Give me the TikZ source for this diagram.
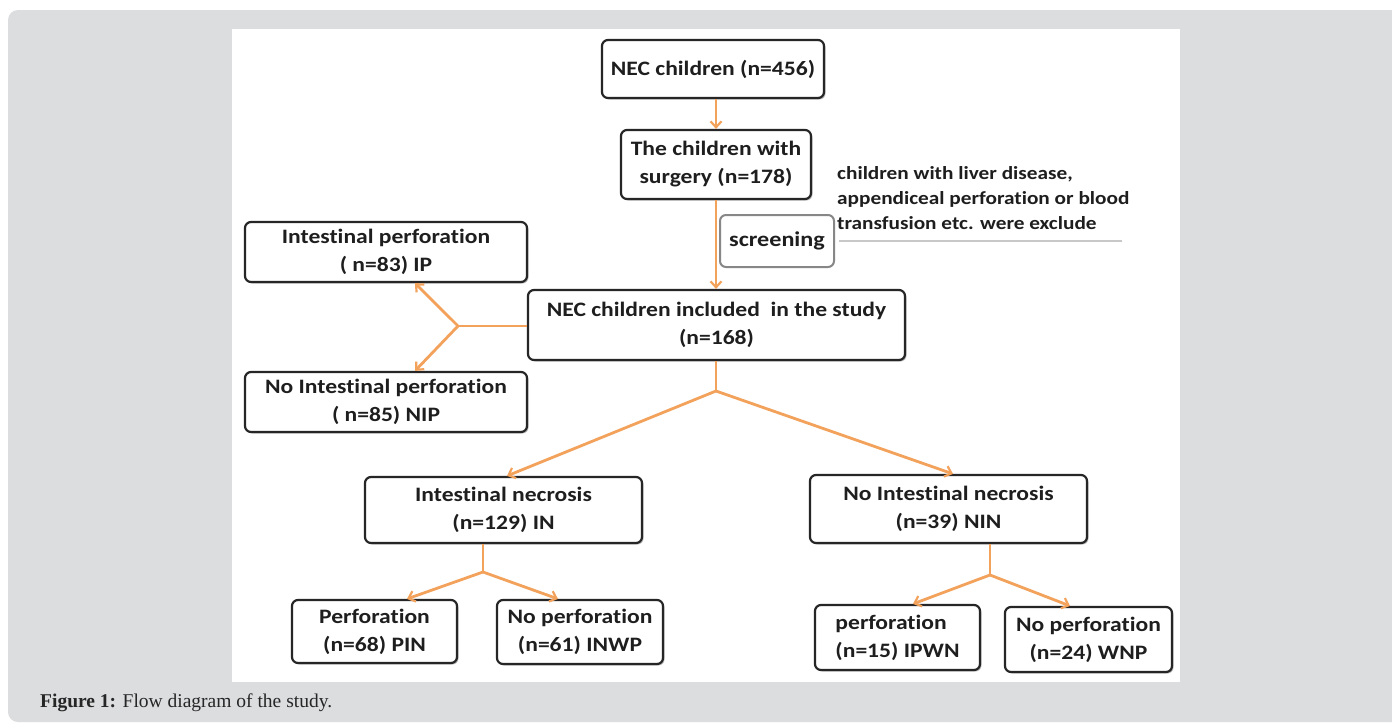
\documentclass[tikz,border=0pt]{standalone}
\usepackage{fontspec}
\setmainfont{Carlito}[FakeStretch=1.15,RawFeature={-liga}]
\newfontfamily\capfont{Liberation Serif}
\usetikzlibrary{arrows.meta,shadows,calc}
\definecolor{panelgray}{RGB}{220,221,223}
\definecolor{arrowor}{RGB}{243,162,92}
\definecolor{txt}{RGB}{30,30,30}
\definecolor{scrgray}{RGB}{135,135,135}
\definecolor{linegray}{RGB}{200,200,200}
\tikzset{
  flowbox/.style={draw=black!85, line width=2.2pt, rounded corners=6pt, fill=white,
    align=center, inner sep=0pt, text=txt,
    font=\fontsize{20.5}{28}\selectfont\bfseries,
    drop shadow={shadow xshift=1.5pt, shadow yshift=-1.5pt, opacity=0.25, fill=black}},
  scrbox/.style={draw=scrgray, line width=2pt, rounded corners=6pt, fill=white,
    align=center, inner sep=0pt, text=txt,
    font=\fontsize{21}{28}\selectfont\bfseries},
  conn/.style={draw=arrowor, line width=2.8pt},
  arr/.style={conn, -{Straight Barb[length=6pt,width=11pt,line width=2.2pt]}},
}
\begin{document}
\begin{tikzpicture}[x=1pt,y=-1pt]
\useasboundingbox (0,0) rectangle (1392,724);
\fill[white] (0,0) rectangle (1392,724);
\fill[panelgray, rounded corners=10pt] (8,10) rectangle (1420,722);
\fill[white] (232,29) rectangle (1180,682);

% nodes
\node[flowbox, minimum width=222pt, minimum height=58pt] (n456) at (713,69) {NEC children (n=456)};
\node[flowbox, minimum width=190pt, minimum height=69pt] (n178) at (716,164.5) {The children with\\surgery (n=178)};
\node[scrbox, minimum width=114pt, minimum height=52pt] (scr) at (777,241) {screening};
\node[anchor=west, align=left, text=txt, inner sep=0pt,
  font=\fontsize{18.5}{25}\selectfont\bfseries] (excl) at (837,198)
  {children with liver disease,\\appendiceal perforation or blood\\transfusion etc. were exclude};
\coordinate (gl1) at (839,241);
\coordinate (gl2) at (1122,241);
\draw[linegray, line width=2pt] (gl1) -- (gl2);

\node[flowbox, minimum width=282pt, minimum height=60pt] (ip) at (386,252) {Intestinal perforation\\( n=83) IP};
\node[flowbox, minimum width=282pt, minimum height=60pt] (nip) at (386,402) {No Intestinal perforation\\( n=85) NIP};
\node[flowbox, minimum width=377pt, minimum height=70pt] (inc) at (716.5,325) {NEC children included\ \ in the study\\(n=168)};
\node[flowbox, minimum width=277pt, minimum height=66pt] (in) at (503.5,510) {Intestinal necrosis\\(n=129) IN};
\node[flowbox, minimum width=277pt, minimum height=68pt] (nin) at (948.5,509) {No Intestinal necrosis\\(n=39) NIN};
\node[flowbox, minimum width=165pt, minimum height=63pt] (pin) at (374.5,631.5) {Perforation\\(n=68) PIN};
\node[flowbox, minimum width=166pt, minimum height=64pt] (inwp) at (580,632) {No perforation\\(n=61) INWP};
\node[flowbox, minimum width=165pt, minimum height=65pt, align=left] (ipwn) at (897.5,637.5) {perforation\\(n=15) IPWN};
\node[flowbox, minimum width=167pt, minimum height=65pt] (wnp) at (1088.5,639.5) {No perforation\\(n=24) WNP};

% connectors
\draw[arr] (n456.south -| n178.north) -- (n178.north);
\draw[arr] (n178.south) -- (n178.south |- inc.north);

\coordinate (jl) at (458,326);
\draw[conn] (inc.west |- jl) -- (jl);
\draw[arr] (jl) -- ([xshift=29pt]ip.south);
\draw[arr] (jl) -- ([xshift=29pt]nip.north);

\coordinate (jb) at (716,391);
\draw[conn] (inc.south -| jb) -- (jb);
\draw[arr] (jb) -- ([xshift=3.5pt]in.north);
\draw[arr] (jb) -- ([xshift=4.5pt]nin.north);

\coordinate (jin) at (483,572);
\draw[conn] (in.south -| jin) -- (jin);
\draw[arr] (jin) -- ([xshift=32.5pt]pin.north);
\draw[arr] (jin) -- ([xshift=-22pt]inwp.north);

\coordinate (jnin) at (990,575);
\draw[conn] (nin.south -| jnin) -- (jnin);
\draw[arr] (jnin) -- ([xshift=15.5pt]ipwn.north);
\draw[arr] (jnin) -- ([xshift=-18.5pt]wnp.north);

% caption
\node[anchor=west, inner sep=0pt, text=black!85, font=\capfont\fontsize{19.5}{23}\selectfont] (cap) at (40,703)
  {\textbf{Figure 1:} Flow diagram of the study.};
\end{tikzpicture}
\end{document}
